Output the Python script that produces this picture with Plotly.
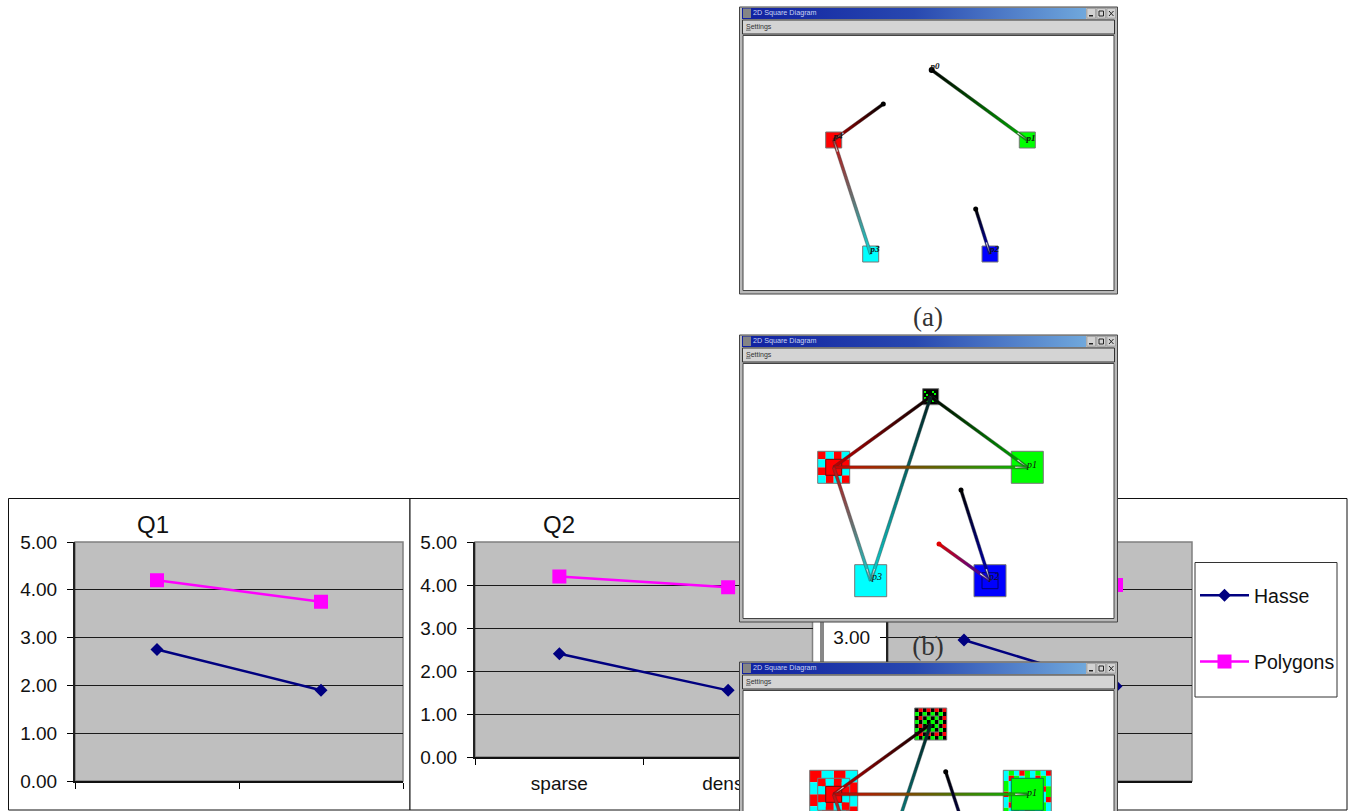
import math
import plotly.graph_objects as go

W, H = 1353, 811

# ---------- chart data ----------
categories = ["sparse", "dense"]
y_ticks = [0, 1, 2, 3, 4, 5]
q1_hasse = [2.75, 1.90]
q1_polygons = [4.20, 3.75]
q2_hasse = [2.40, 1.55]
q2_polygons = [4.20, 3.95]
q3_hasse = [2.95, 1.98]
q3_polygons = [4.30, 4.10]

NAVY, MAGENTA, PLOT_GRAY = "#000080", "#FF00FF", "#BFBFBF"
SANS, SERIF = "Liberation Sans, Arial, sans-serif", "Liberation Serif, serif"

fig = go.Figure()
shapes = []


def fx(v):
    return v / W


def fy(v):
    return 1 - v / H


def page_rect(x0, y0, x1, y1, fill, line, lw=1):
    shapes.append(dict(type="rect", xref="paper", yref="paper", layer="below",
                       x0=fx(x0), x1=fx(x1), y0=fy(y1), y1=fy(y0),
                       fillcolor=fill, line=dict(color=line, width=lw)))


# chart frames and legend box (bottom page layer)
page_rect(8.5, 498.5, 410, 810, "white", "#111")
page_rect(410, 498.5, 821, 810, "white", "#111")
page_rect(823, 498.5, 1347, 810, "white", "#111")
page_rect(1195, 562.5, 1337, 697, "white", "#333", 1)

panels = [
    dict(sfx="", box=(75, 542, 403, 781), h=q1_hasse, p=q1_polygons, labels=False, legend=True),
    dict(sfx="2", box=(475, 542, 812.5, 757), h=q2_hasse, p=q2_polygons, labels=True, legend=False),
    dict(sfx="3", box=(888, 542, 1192, 781), h=q3_hasse, p=q3_polygons, labels=False, legend=False),
]
layout_axes = {}
for pn in panels:
    l, t, r, b = pn["box"]
    page_rect(l, t, r, b, PLOT_GRAY, "#808080", 1.5)
    xa, ya = "x" + pn["sfx"], "y" + pn["sfx"]
    layout_axes["xaxis" + pn["sfx"]] = dict(
        domain=[fx(l), fx(r)], anchor=ya, type="category", categoryorder="array",
        categoryarray=categories, range=[-0.5, 1.5], tickson="boundaries", ticks="outside",
        ticklen=6, tickcolor="#000", tickwidth=1, showline=True, linecolor="#111", linewidth=2,
        showgrid=False, zeroline=False, showticklabels=pn["labels"], ticklabelstandoff=8,
        tickfont=dict(family=SANS, size=19, color="#111"))
    layout_axes["yaxis" + pn["sfx"]] = dict(
        domain=[fy(b), fy(t)], anchor=xa, range=[0, 5], tickmode="array", tickvals=y_ticks,
        tickformat=".2f", ticks="outside", ticklen=6, tickcolor="#000", tickwidth=1,
        showline=True, linecolor="#222", linewidth=2, showgrid=True, gridcolor="#1a1a1a",
        gridwidth=1, zeroline=False, ticklabelstandoff=6,
        tickfont=dict(family=SANS, size=19, color="#111"))
    fig.add_trace(go.Scatter(x=categories, y=pn["h"], xaxis=xa, yaxis=ya, mode="lines+markers",
                             name="Hasse", legendgroup="Hasse", showlegend=pn["legend"],
                             line=dict(color=NAVY, width=2.5),
                             marker=dict(symbol="diamond", size=10, color=NAVY)))
    fig.add_trace(go.Scatter(x=categories, y=pn["p"], xaxis=xa, yaxis=ya, mode="lines+markers",
                             name="Polygons", legendgroup="Polygons", showlegend=pn["legend"],
                             line=dict(color=MAGENTA, width=2.5),
                             marker=dict(symbol="square", size=14, color=MAGENTA)))


# ---------- page overlay (pixel coordinates) ----------
def add(**kw):
    fig.add_trace(go.Scatter(xaxis="x4", yaxis="y4", showlegend=False, hoverinfo="skip", **kw))


def txt(x, y, s, size, color, family=SANS, pos="middle center"):
    add(x=[x], y=[y], text=[s], mode="text", textposition=pos,
        textfont=dict(family=family, size=size, color=color))


def rects(items, color, line=None, lw=0):
    xs, ys = [], []
    for (x0, y0, x1, y1) in items:
        xs += [x0, x1, x1, x0, x0, None]
        ys += [y0, y0, y1, y1, y0, None]
    add(x=xs, y=ys, mode="lines", fill="toself", fillcolor=color,
        line=dict(color=line or color, width=lw))


def square(cx, cy, size, color, line="#777", lw=1):
    rects([(cx - size / 2, cy - size / 2, cx + size / 2, cy + size / 2)], color, line, lw)


def outline(cx, cy, size, color):
    s = size / 2
    add(x=[cx - s, cx + s, cx + s, cx - s, cx - s], y=[cy - s, cy - s, cy + s, cy + s, cy - s],
        mode="lines", line=dict(color=color, width=1))


def checker(cx, cy, size, n, palette):
    cell = size / n
    x0, y0 = cx - size / 2, cy - size / 2
    groups = {}
    for i in range(n):
        for j in range(n):
            c = palette(i, j)
            groups.setdefault(c, []).append((x0 + j * cell, y0 + i * cell,
                                             x0 + (j + 1) * cell, y0 + (i + 1) * cell))
    for c, items in groups.items():
        rects(items, c)
    outline(cx, cy, size, "#777")


def edge(p, q, c0, c1, w=3.0, head=True):
    dx, dy = q[0] - p[0], q[1] - p[1]
    d = math.hypot(dx, dy)
    nx, ny = -dy / d * w / 2, dx / d * w / 2
    xs = [p[0] + nx, q[0] + nx, q[0] - nx, p[0] - nx, p[0] + nx]
    ys = [p[1] + ny, q[1] + ny, q[1] - ny, p[1] - ny, p[1] + ny]
    horiz = abs(dx) >= abs(dy)
    a, b = (p[0], q[0]) if horiz else (p[1], q[1])
    cs = [[0, c0], [1, c1]] if a <= b else [[0, c1], [1, c0]]
    add(x=xs, y=ys, mode="lines", fill="toself",
        line=dict(color="rgba(50,50,50,0.7)", width=0.5),
        fillgradient=dict(type="horizontal" if horiz else "vertical",
                          colorscale=cs, start=min(a, b), stop=max(a, b)))
    if head:
        ux, uy = dx / d, dy / d
        L = 12
        add(x=[q[0] - ux * L + nx * .5, q[0], q[0] - ux * L - nx * .5],
            y=[q[1] - uy * L + ny * .5, q[1], q[1] - uy * L - ny * .5],
            mode="lines", fill="toself", fillcolor="white",
            line=dict(color="#333", width=0.4))


def dot(x, y, color="#000", size=5):
    add(x=[x], y=[y], mode="markers", marker=dict(size=size, color=color, symbol="circle"))


def plabel(x, y, s, size=9, bold=True):
    body = "<i>" + s + "</i>"
    txt(x, y, "<b>" + body + "</b>" if bold else body, size, "#111", SERIF)


def window(top):
    L, R = 739.5, 1117.5
    bottom = top + 287
    rects([(L, top, R, bottom)], "#B8B8B8", "#444", 1)
    # title bar
    add(x=[742, 1086, 1086, 742, 742], y=[top + 1, top + 1, top + 12, top + 12, top + 1],
        mode="lines", fill="toself", line=dict(width=0, color="#1428a0"),
        fillgradient=dict(type="horizontal", colorscale=[[0, "#1020A0"], [0.5, "#2848B0"], [1, "#70A8DC"]],
                          start=742, stop=1086))
    rects([(743, top + 1.5, 751, top + 11)], "#858585")
    txt(753, top + 6.5, "2D Square Diagram", 7.2, "#C8D4F4", pos="middle right")
    # buttons
    for bx, kind in ((1087, "min"), (1097, "max"), (1107, "x")):
        rects([(bx, top + 1.5, bx + 8.5, top + 11)], "#D2D2D2", "#888", 0.5)
        if kind == "min":
            rects([(bx + 2, top + 8, bx + 6, top + 9.5)], "#222")
        elif kind == "max":
            add(x=[bx + 2, bx + 6.5, bx + 6.5, bx + 2, bx + 2],
                y=[top + 4, top + 4, top + 9, top + 9, top + 4],
                mode="lines", line=dict(color="#222", width=1))
        else:
            add(x=[bx + 2, bx + 6.5, None, bx + 6.5, bx + 2],
                y=[top + 4, top + 9, None, top + 4, top + 9],
                mode="lines", line=dict(color="#222", width=1))
    # menu bar
    rects([(742.5, top + 13, 1114.5, top + 27)], "#D4D4D4", "#333", 1)
    txt(746, top + 20, "<u>S</u>ettings", 7, "#333", pos="middle right")
    # canvas
    rects([(743, top + 28.5, 1114, bottom - 3.5)], "white", "#444", 1)


# chart titles sit underneath the windows
txt(153, 527, "Q1", 24, "#111")
txt(559, 527, "Q2", 24, "#111")
txt(952, 527, "Q3", 24, "#111")

RED, GREEN, CYAN, BLUE = "#FF0000", "#00FF00", "#00FFFF", "#0000FF"
XL, XR, XC, XB, XT = 833.7, 1027.3, 870.7, 990.0, 931.0

# ----- window (a) -----
window(7)
square(XL, 140, 16, RED)
square(XR, 140, 16, GREEN)
square(XC, 254, 16, CYAN)
square(XB, 254, 16, BLUE)
edge((931.7, 70), (XR, 140), "#000000", "#00B000")
edge((883.3, 104), (XL, 140), "#000000", "#B00000")
edge((XC, 254), (XL, 140), "#10D0D0", "#C01010")
edge((975.7, 209), (XB, 254), "#000000", "#0000C0")
dot(931.7, 70, size=6)
dot(883.3, 104)
dot(975.7, 209)
plabel(935, 67, "p0")
plabel(838, 137, "p4")
plabel(1031, 139, "p1")
plabel(994.5, 250, "p2")
plabel(875, 250, "p3")
txt(928, 319.5, "(a)", 27, "#333", SERIF)

# ----- window (b) -----
window(335)
square(930.7, 396.7, 16, "#000000")
rects([(924 + a, 391 + b, 926 + a, 393 + b) for a, b in
       [(0, 0), (2, 3), (0, 6), (8, 0), (10, 2), (2, 9), (8, 9), (5, 5)]], GREEN)
checker(XL, 467.3, 32, 4, lambda i, j: RED if (i + j) % 2 == 0 else CYAN)
square(XL, 467.3, 16, RED, "#700", 1)
square(XR, 467.3, 32, GREEN)
square(XC, 580.7, 32, CYAN)
square(XB, 580.7, 32, BLUE)
outline(XB, 580.7, 16, "#000070")
edge((930.7, 396.7), (XL, 467.3), "#000000", "#C00000", head=False)
edge((930.7, 396.7), (XR, 467.3), "#000000", "#00B000")
edge((930.7, 396.7), (XC, 580.7), "#002020", "#10D0D0")
edge((XL, 467.3), (XR, 467.3), "#D00000", "#00C000")
edge((XL, 467.3), (XC, 580.7), "#C01010", "#10D0D0")
edge((961, 490), (XB, 580.7), "#000000", "#0000C0")
edge((939, 544), (XB, 580.7), "#E00000", "#2000C0")
dot(961, 490)
dot(939, 544, "#E00000")
plabel(1032, 465.5, "p1", 10, bold=False)
plabel(877, 577, "p3", 10, bold=False)
plabel(994, 577, "p2", 10, bold=False)
txt(928, 648.5, "(b)", 27, "#333", SERIF)

# ----- window (c) -----
window(662)
YT, YM, YB = 724.0, 794.3, 907.0
checker(930.7, YT, 32, 8,
        lambda i, j: "#000000" if (i + j) % 2 == 0 else (RED if (i % 2 == 0) else GREEN))
checker(930.7, YT, 16, 4, lambda i, j: "#000000" if (i + j) % 2 == 0 else GREEN)
checker(XL, YM, 48, 4, lambda i, j: RED if (i + j) % 2 == 0 else CYAN)
checker(XL, YM, 32, 4, lambda i, j: RED if (i + j) % 2 == 0 else CYAN)
square(XL, YM, 16, RED, "#700", 1)
ring = [CYAN, GREEN, CYAN, RED, GREEN]
checker(XR, YM, 48, 9, lambda i, j: ring[(i * 2 + j) % 5])
square(XR, YM, 32, GREEN, "#075", 1)
square(XC, YB, 48, CYAN)
square(XB, YB, 48, BLUE)
edge((930.7, YT), (XL, YM), "#000000", "#C00000")
edge((930.7, YT), (XC, YB), "#002020", "#10D0D0")
edge((XL, YM), (XR, YM), "#D00000", "#00C000")
edge((XL, YM), (XC, YB), "#C01010", "#10D0D0")
edge((945.7, 771.7), (XB, YB), "#000000", "#0000C0")
dot(945.7, 771.7)
plabel(1032, 793, "p1", 10, bold=False)

layout_axes["xaxis4"] = dict(domain=[0, 1], range=[0, W], visible=False, anchor="y4", fixedrange=True)
layout_axes["yaxis4"] = dict(domain=[0, 1], range=[H, 0], visible=False, anchor="x4", fixedrange=True)

fig.update_layout(
    width=W, height=H, margin=dict(l=0, r=0, t=0, b=0, pad=0, autoexpand=False),
    paper_bgcolor="white", plot_bgcolor="rgba(0,0,0,0)", shapes=shapes, hovermode=False,
    font=dict(family=SANS, color="#111"),
    legend=dict(x=fx(1195), y=fy(576), xanchor="left", yanchor="top", bgcolor="rgba(0,0,0,0)",
                borderwidth=0, itemwidth=49, tracegroupgap=38, traceorder="grouped",
                font=dict(family=SANS, size=19.5, color="#111")),
    **layout_axes)

fig.write_html("out.html", config=dict(displayModeBar=False),
               post_script="document.body.style.margin='0';document.body.style.overflow='hidden';")
